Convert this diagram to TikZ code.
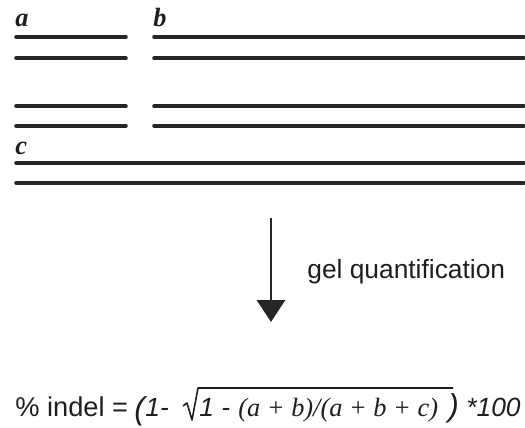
\documentclass[tikz,border=0pt]{standalone}
\usepackage{fontspec}
\setmainfont{Liberation Serif}
\setsansfont{Liberation Sans}
\usepackage{xcolor}
\usepackage{tikz}
\usetikzlibrary{arrows.meta,positioning}
\definecolor{GelBand}{HTML}{262626}
\definecolor{GelText}{HTML}{1E1E1E}

\tikzset{
  band/.style={draw=GelBand,line width=2pt,line cap=round},
  lanelabel/.style={font=\fontsize{15}{17}\selectfont\bfseries\itshape,text=GelText,anchor=base west,inner sep=0pt},
  eqpart/.style={font=\fontsize{15}{17}\selectfont\sffamily\itshape,text=GelText,anchor=base west,inner sep=0pt},
  eqparen/.style={eqpart,font=\fontsize{18}{18}\selectfont\sffamily\itshape},
  quantarrow/.style={draw=GelBand,line width=1.6pt,-{Triangle[length=12.5pt,width=16pt]}}
}

\begin{document}
\begin{tikzpicture}[x=0.02cm,y=-0.02cm]
    \useasboundingbox (0,0) rectangle (525,428);
    % Lane labels
    \node[lanelabel] (laneA) at (15,27)  {a};
    \node[lanelabel] (laneB) at (153,27) {b};
    \node[lanelabel] (laneC) at (15,155) {c};
    % Bands a (short) and b (long)
    \draw[band] (16,37)  -- (126,37);   \draw[band] (154,37)  -- (524,37);
    \draw[band] (16,58)  -- (126,58);   \draw[band] (154,58)  -- (524,58);
    \draw[band] (16,106) -- (126,106);  \draw[band] (154,106) -- (524,106);
    \draw[band] (16,126) -- (126,126);  \draw[band] (154,126) -- (524,126);
    % Bands c (full width)
    \draw[band] (16,163) -- (524,163);
    \draw[band] (16,183) -- (524,183);
    % Quantification step
    \coordinate (arrTop) at (271,218);
    \coordinate (arrTip) at (271,322);
    \draw[quantarrow] (arrTop) -- (arrTip);
    \node[font=\fontsize{15}{17}\selectfont\sffamily,text=GelText,anchor=base west,inner sep=0pt]
      (gelQuant) at (307,279) {gel quantification};
    % Indel formula
    \node[eqpart,font=\fontsize{15.5}{17}\selectfont\sffamily] (eqLhs) at (15,417) {\% indel =};
    \node[eqparen] (eqParL) at (134,420) {(};
    \node[eqpart] (eqOne) at (145,417) {1-};
    \draw[GelText,line width=0.9pt,line join=round]
      (183,406) -- (187,403) -- (192,420) -- (198,388) -- (453,388);
    \node[eqpart] (eqInOne) at (199,417) {1 -};
    \node[eqpart,font=\fontsize{15}{17}\selectfont\rmfamily\itshape] (eqFrac) at (238,417) {(a + b)/(a + b + c)};
    \node[eqparen] (eqParR) at (448,417) {)};
    \node[eqpart] (eqTimes) at (466,417) {*100};
\end{tikzpicture}
\end{document}
